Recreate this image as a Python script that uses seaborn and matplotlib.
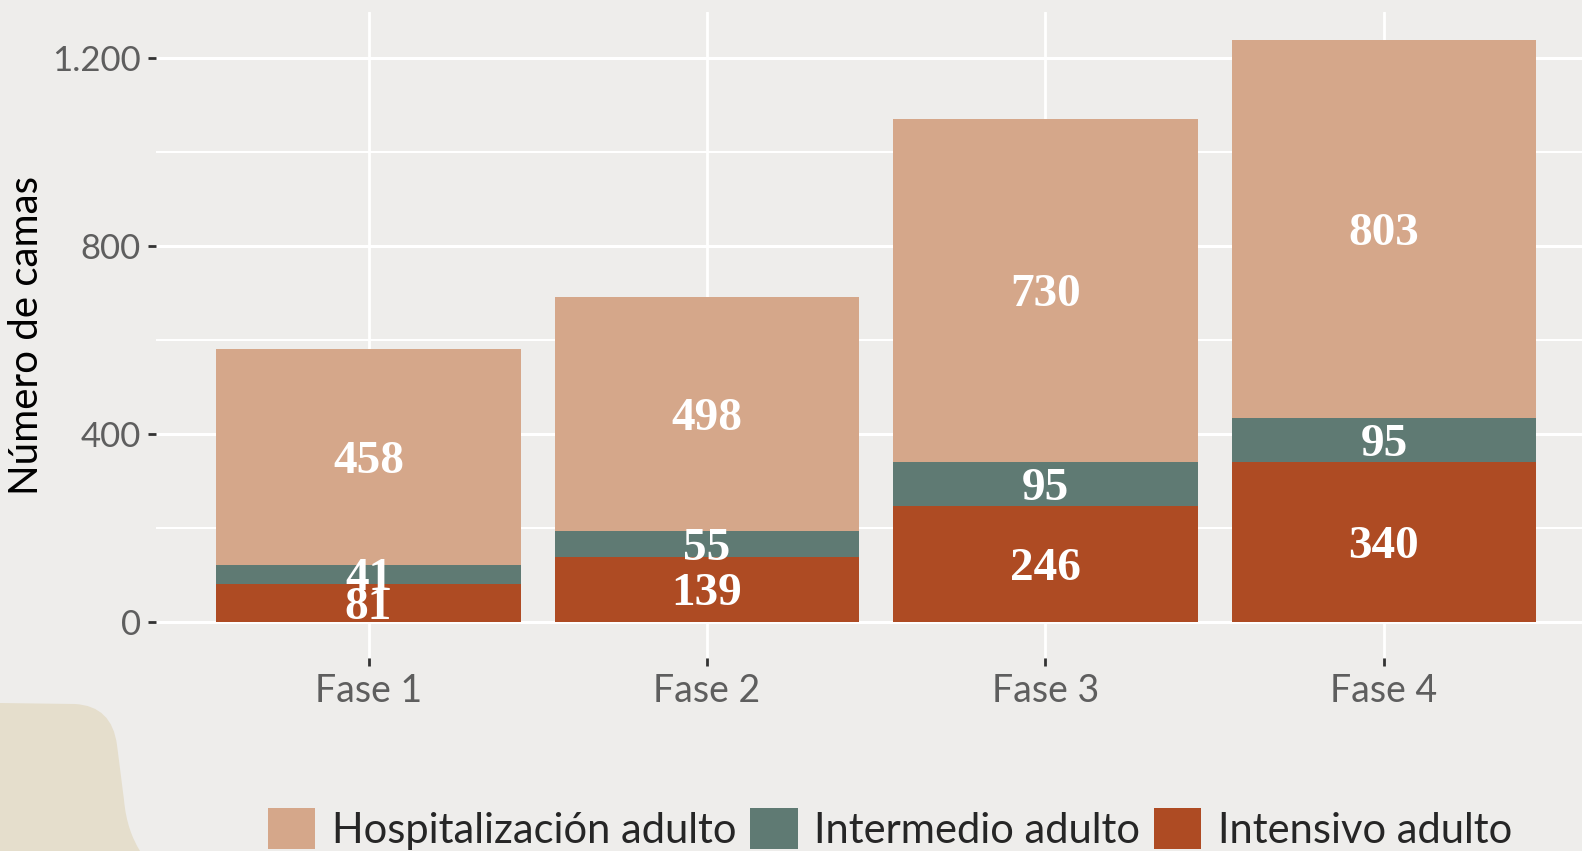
import matplotlib
matplotlib.use("Agg")
import matplotlib.pyplot as plt
from matplotlib.patches import Patch, PathPatch
from matplotlib.path import Path
from matplotlib.ticker import FuncFormatter, MultipleLocator
import numpy as np
import pandas as pd
import seaborn as sns

# Camas por fase y tipo de cuidado
fases = ["Fase 1", "Fase 2", "Fase 3", "Fase 4"]
intensivo = [81, 139, 246, 340]
intermedio = [41, 55, 95, 95]
hospitalizacion = [458, 498, 730, 803]

series = ["Hospitalización adulto", "Intermedio adulto", "Intensivo adulto"]
colores = {"Hospitalización adulto": "#D5A78A",
           "Intermedio adulto": "#5F7A73",
           "Intensivo adulto": "#AE4B23"}

FONDO = "#EEEDEB"
W, H = 1582, 851

sns.set_theme(style="whitegrid")
plt.rcParams["font.family"] = ["Lato", "DejaVu Sans"]

df = pd.DataFrame({"fase": fases, "Intensivo adulto": intensivo,
                   "Intermedio adulto": intermedio,
                   "Hospitalización adulto": hospitalizacion})
df["base_int"] = df["Intensivo adulto"]
df["base_med"] = df["base_int"] + df["Intermedio adulto"]
df["total"] = df["base_med"] + df["Hospitalización adulto"]

fig = plt.figure(figsize=(W / 100, H / 100), dpi=100, facecolor=FONDO)

# Forma decorativa en la esquina inferior izquierda
verts = [(0, 851), (0, 703), (75, 704), (112, 706), (117, 745),
         (124, 800), (126, 822), (132, 838), (140, 851), (0, 851)]
codes = [Path.MOVETO, Path.LINETO, Path.LINETO, Path.CURVE3, Path.CURVE3,
         Path.LINETO, Path.CURVE4, Path.CURVE4, Path.CURVE4, Path.CLOSEPOLY]
verts_fig = [(x / W, 1 - y / H) for x, y in verts]
fig.add_artist(PathPatch(Path(verts_fig, codes), transform=fig.transFigure,
                         facecolor="#E5DECC", edgecolor="none", zorder=0))

ax = fig.add_axes([156 / W, (H - 658) / H, 1431 / W, 646 / H])
ax.set_facecolor(FONDO)

# Barras apiladas: total, luego intensivo+intermedio, luego intensivo
for col, serie in [("total", "Hospitalización adulto"),
                   ("base_med", "Intermedio adulto"),
                   ("base_int", "Intensivo adulto")]:
    sns.barplot(data=df, x="fase", y=col, color=colores[serie], width=0.9,
                saturation=1, linewidth=0, ax=ax, zorder=2)

# Etiquetas de valor en el centro de cada segmento
for i in range(len(fases)):
    segs = [(0, intensivo[i]),
            (intensivo[i], intermedio[i]),
            (intensivo[i] + intermedio[i], hospitalizacion[i])]
    for base, val in segs:
        ax.text(i, base + val / 2, f"{val}", ha="center", va="center_baseline",
                color="white", fontsize=34, fontweight="bold",
                family=["Liberation Serif", "DejaVu Serif"], zorder=5)

ax.set_xlim(-0.628, 3.6)
ax.set_ylim(-76.6, 1297.9)

ax.yaxis.set_major_locator(MultipleLocator(400))
ax.yaxis.set_minor_locator(MultipleLocator(200))
ax.yaxis.set_major_formatter(FuncFormatter(lambda v, p: f"{int(v):,}".replace(",", ".")))

ax.set_axisbelow(True)
ax.grid(False)
ax.grid(axis="y", which="major", color="white", linewidth=2.2)
ax.grid(axis="y", which="minor", color="white", linewidth=1.5)
ax.grid(axis="x", which="major", color="white", linewidth=2.0)
for s in ax.spines.values():
    s.set_visible(False)

ax.tick_params(axis="both", which="major", length=5.8, width=2.0,
               color="#333333", labelcolor="#5E5E5E", labelsize=27,
               pad=5, left=True, bottom=True)
ax.tick_params(axis="y", which="major", labelsize=25)
ax.tick_params(axis="y", which="minor", left=False)
ax.set_xlabel("")
ax.set_ylabel("Número de camas", fontsize=29, color="black")
ax.yaxis.set_label_coords((45 - 156) / 1431, 0.5)

handles = [Patch(facecolor=colores[s], edgecolor="none", label=s) for s in series]
fig.legend(handles=handles, loc="upper left", bbox_to_anchor=(268 / W, 1 - 808 / H),
           ncol=3, frameon=False, fontsize=30, handlelength=1.13,
           handleheight=1.13, handletextpad=0.4, columnspacing=0.34,
           borderpad=0, borderaxespad=0)

fig.savefig("out.png", dpi=100, facecolor=FONDO)
